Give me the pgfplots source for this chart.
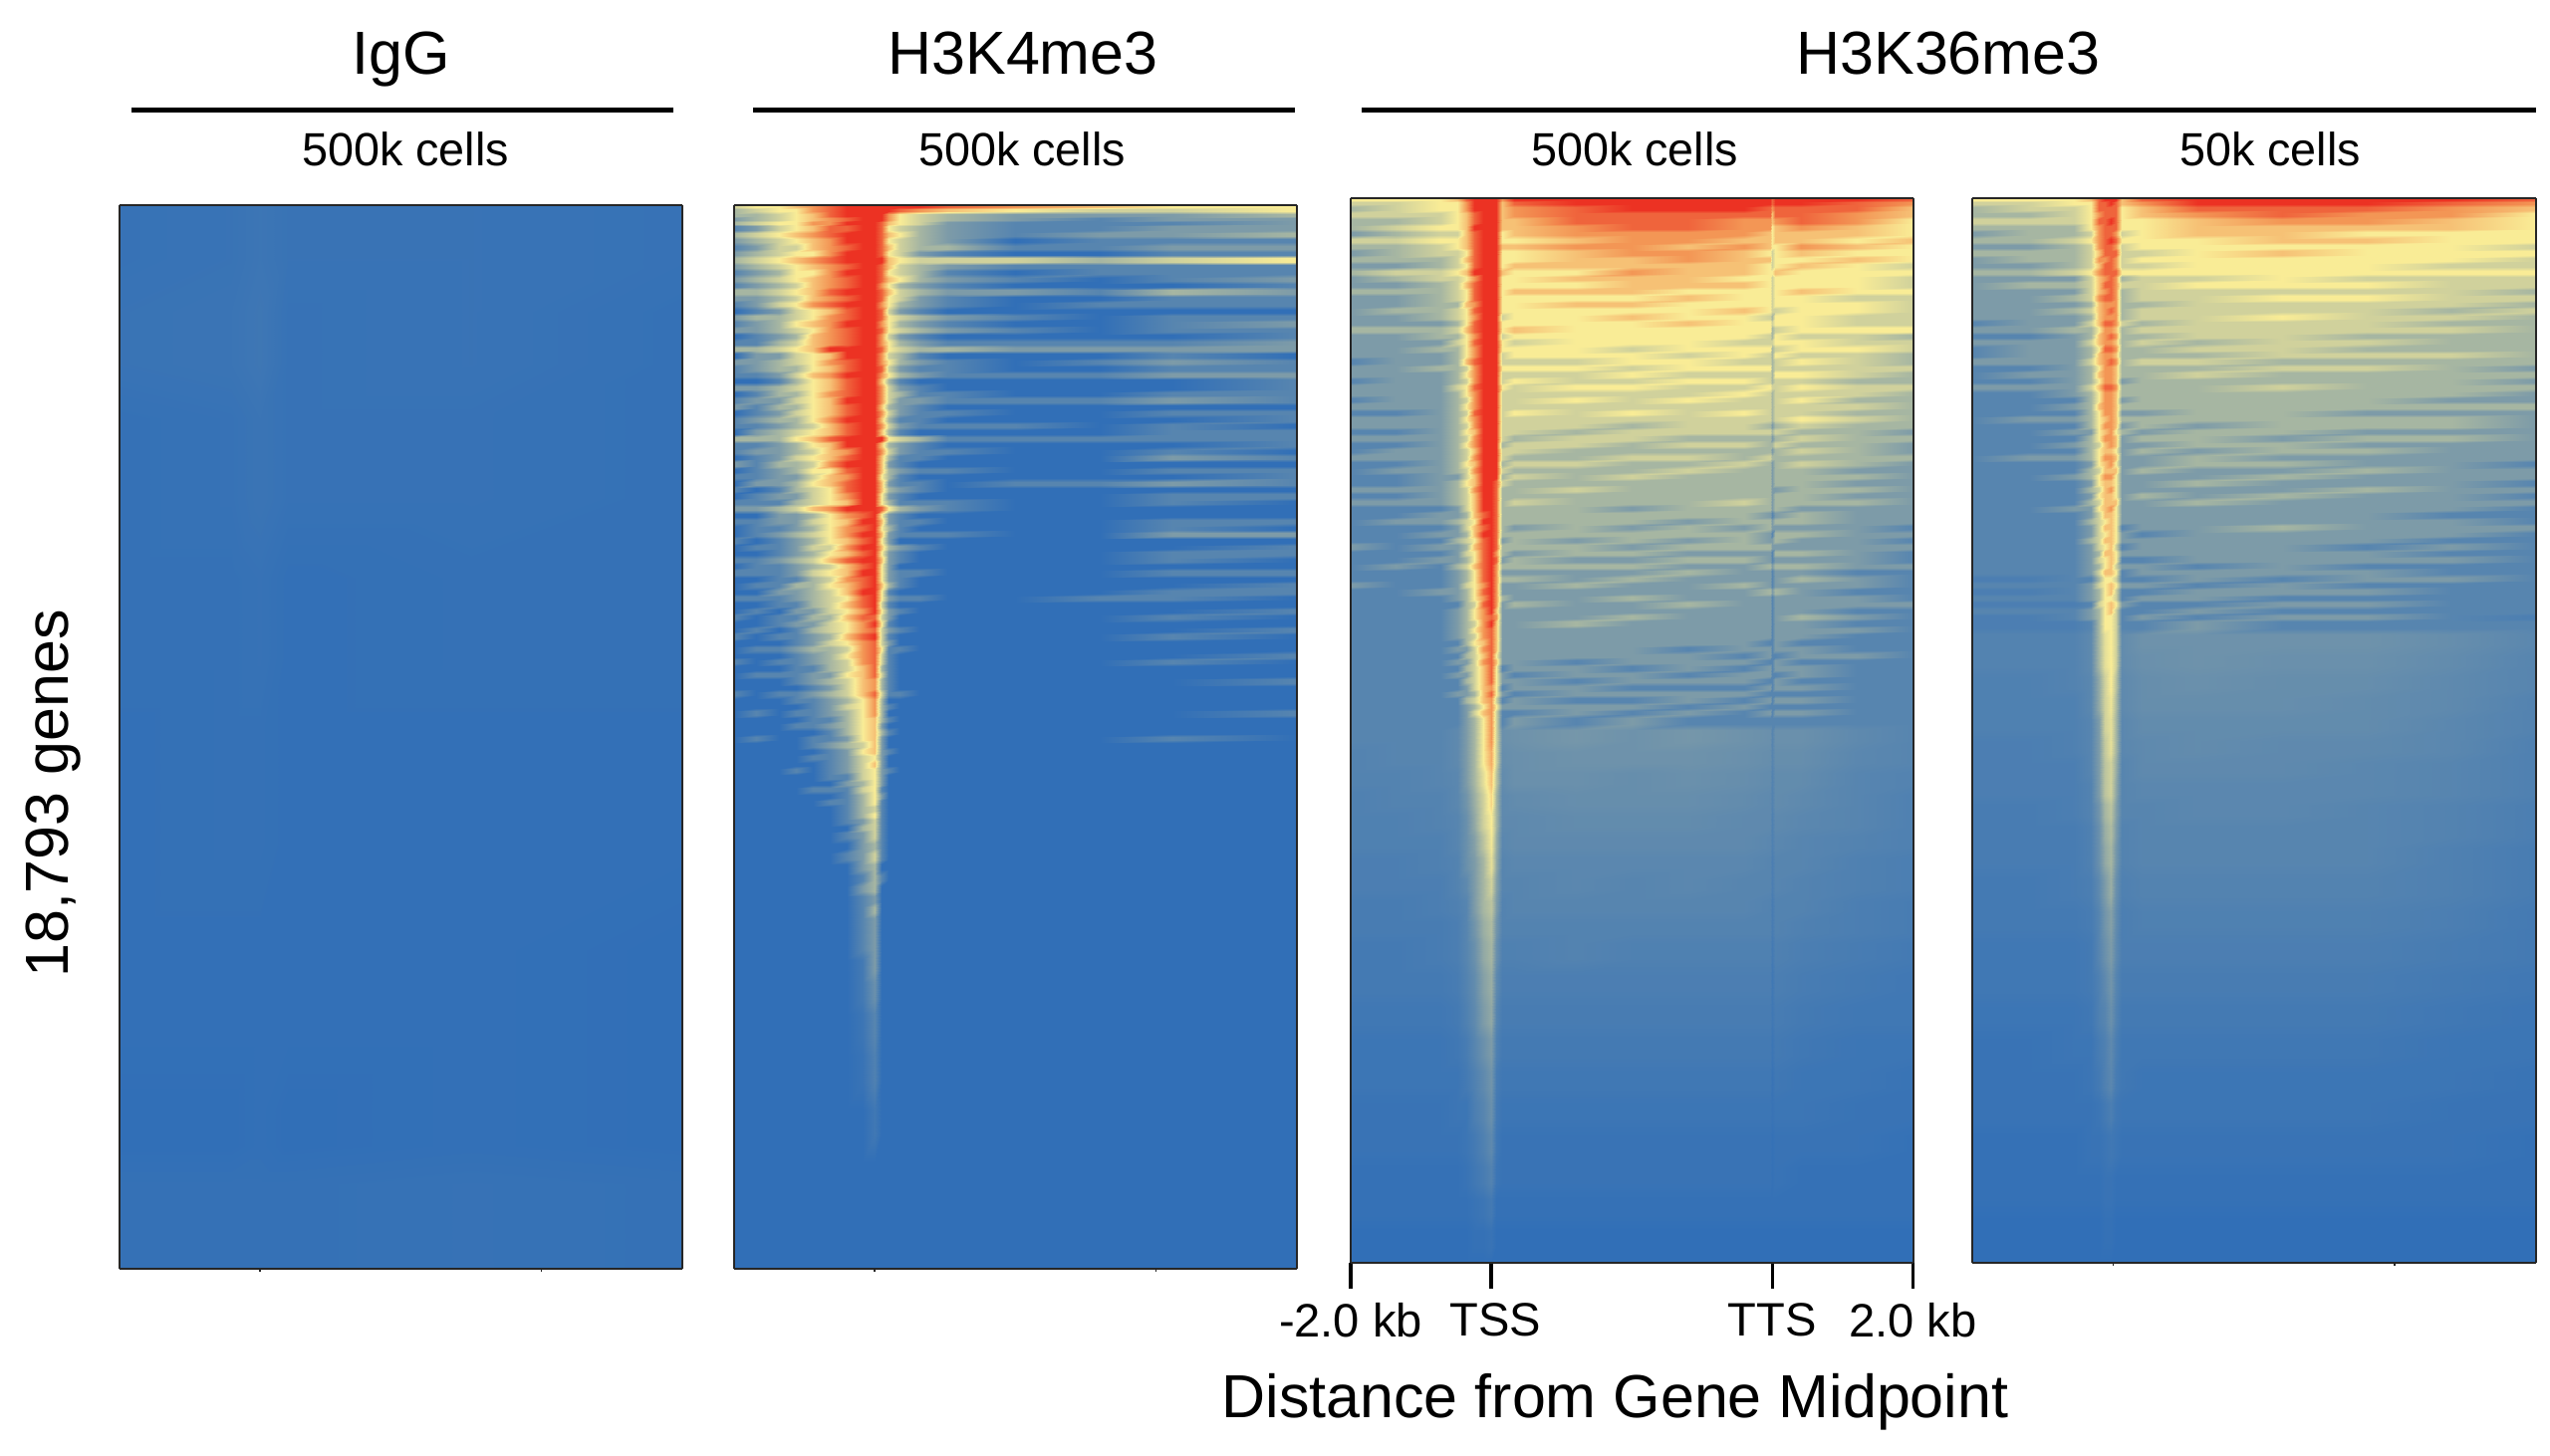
\documentclass[border=0pt]{standalone}
\usepackage{fontspec}
\setmainfont{Liberation Sans}
\usepackage{pgfplots}
\usepackage{pgfplotstable}
\pgfplotsset{compat=1.18}

% first column: depth in the sorted gene list (percent), then signal 0-9
% each row is a band down to the next depth, the last row only closes the panel
\pgfplotstableread{
y a b c d e f g h i j k l m n o p q r
0   4 5 5 6 7 8 9 9 9 9 9 9 9 8 7 6 5 5
0.4 3 4 5 5 7 8 9 9 9 9 9 8 7 6 5 4 4 5
0.8 3 3 4 5 6 8 9 9 9 9 7 5 4 3 2 2 2 3
1.2 2 3 4 5 6 7 8 9 9 9 7 5 4 3 2 1 2 2
1.6 3 4 5 5 7 7 9 9 9 8 6 5 4 2 1 1 1 2
2.0 1 2 4 5 6 8 8 9 9 8 5 4 3 2 1 1 2 2
2.6 3 4 5 6 7 8 9 9 9 8 6 5 3 2 1 2 2 3
3.2 2 3 4 5 6 7 9 9 9 8 5 4 3 2 0 1 1 1
3.8 1 2 4 4 6 7 8 9 9 8 6 4 3 3 1 1 2 2
4.4 2 3 4 5 5 7 9 9 9 8 5 4 2 1 0 0 1 1
5.0 3 4 5 6 7 8 9 9 9 9 6 5 4 4 4 3 4 5
5.6 2 3 4 5 6 7 8 9 9 8 6 4 3 2 1 1 1 1
6.2 1 2 3 5 5 7 9 9 9 8 5 4 3 1 0 1 1 1
6.8 2 3 4 5 6 7 8 9 9 8 6 5 3 2 1 0 1 2
7.4 1 2 3 4 6 7 8 9 9 7 5 3 2 1 0 0 0 1
8.0 3 3 4 5 6 8 9 9 9 8 6 4 3 2 2 1 3 2
8.6 2 2 3 4 6 7 8 9 9 8 5 4 2 1 0 0 1 1
9.2 1 2 4 5 7 8 9 9 9 7 5 3 2 1 0 1 1 1
9.8 0 1 2 4 5 6 8 9 9 8 4 2 1 0 0 0 0 0
10.4 2 3 3 4 5 7 8 9 9 8 5 4 3 2 1 0 1 1
11.0 1 2 3 5 6 7 9 9 9 7 5 3 2 1 0 0 1 2
11.6 2 2 3 4 5 7 8 9 9 8 5 4 3 2 1 0 1 1
12.2 0 1 2 3 6 7 8 9 9 7 4 2 1 0 0 0 0 1
12.8 1 1 3 4 6 7 8 9 9 7 5 3 2 1 1 1 1 2
13.4 3 3 4 5 6 9 9 9 9 8 5 4 3 3 2 2 2 2
14.0 0 2 2 4 5 6 9 9 9 7 4 3 1 0 0 0 1 0
14.6 2 2 3 4 5 7 8 9 9 7 5 3 2 1 0 1 2 1
15.2 1 2 3 3 5 6 8 9 9 8 4 2 1 1 0 0 1 1
15.8 1 1 2 4 6 7 9 9 9 7 5 3 2 1 1 1 2 2
16.4 0 0 1 3 5 6 8 9 9 6 3 1 0 0 0 0 0 1
17.0 2 2 3 4 5 6 8 9 9 7 4 2 1 0 0 0 0 1
17.6 0 1 3 3 5 7 8 9 9 7 4 3 1 1 0 0 1 1
18.2 1 2 2 4 5 6 9 9 9 7 4 2 2 1 1 1 2 1
18.8 2 1 3 3 5 6 8 9 9 6 3 2 1 0 0 0 0 0
19.4 0 1 2 4 5 6 8 9 9 7 4 2 1 1 0 0 1 1
20.0 1 2 3 3 5 7 9 9 9 6 3 1 1 0 0 0 0 1
20.6 1 1 2 3 4 6 8 9 9 7 4 2 1 1 1 0 1 0
21.2 0 2 3 4 5 6 8 9 9 6 3 1 0 0 0 0 1 1
21.8 3 3 3 5 6 8 9 9 9 9 5 4 3 1 1 1 1 1
22.4 1 1 2 3 5 6 9 9 9 6 3 2 1 0 0 0 0 1
23.0 1 2 2 3 4 6 7 9 9 7 4 2 1 1 0 0 1 0
23.6 0 1 2 4 5 6 8 9 9 6 3 1 1 0 0 0 2 1
24.2 2 1 3 3 4 7 9 9 9 6 2 1 0 0 0 0 0 0
24.8 0 1 2 3 5 5 8 9 9 6 3 2 1 1 0 0 1 1
25.4 1 1 2 2 4 6 7 9 9 5 3 1 0 0 0 0 0 1
26.0 0 2 2 3 5 6 8 9 9 6 2 1 1 0 1 1 2 1
26.6 1 0 1 3 4 5 8 9 9 6 3 2 1 0 0 0 0 0
27.2 0 1 2 2 4 5 7 9 9 5 2 1 0 0 0 0 1 1
27.8 1 1 1 3 4 5 6 9 9 5 3 1 1 1 0 0 1 0
28.4 2 2 3 4 6 7 9 9 9 8 5 3 2 1 0 0 0 0
29.0 0 0 2 2 3 5 7 8 9 5 2 1 0 0 0 0 0 0
29.6 1 1 2 2 4 5 6 9 9 6 2 1 1 0 0 0 1 1
30.2 0 1 1 2 3 5 7 8 9 5 3 1 0 0 0 0 1 0
30.8 0 1 2 3 4 5 7 9 9 6 2 1 1 1 0 0 2 2
31.4 1 0 1 2 3 5 6 8 9 5 2 0 0 0 0 0 0 0
32.0 0 1 1 2 4 4 7 9 9 6 3 2 1 0 0 0 0 1
32.6 0 0 1 2 3 5 6 8 9 5 2 1 0 0 0 0 1 1
33.2 1 1 2 3 4 6 8 9 9 6 2 1 0 0 0 0 1 0
33.8 0 1 1 2 3 4 6 8 9 5 2 0 0 0 0 0 0 0
34.4 1 1 1 2 4 5 6 9 9 5 2 1 1 0 0 0 1 1
35.0 0 0 1 1 3 4 7 8 9 5 2 1 0 0 0 0 0 0
35.6 0 1 1 3 3 5 6 8 9 6 3 1 0 0 0 0 0 1
36.2 0 0 2 2 3 4 6 9 9 5 1 0 0 0 0 0 1 1
36.8 1 1 1 2 3 4 5 8 9 5 2 1 1 0 0 1 1 0
37.4 0 0 1 1 3 4 6 8 9 4 1 0 0 0 0 0 0 0
38.0 0 1 0 2 2 4 5 7 9 5 2 1 0 0 0 0 0 1
38.6 1 0 1 1 3 3 6 8 8 4 2 0 0 0 0 0 1 0
39.2 0 0 1 2 2 4 5 7 9 5 1 0 0 0 0 0 0 0
39.8 0 1 0 1 3 4 5 7 8 4 2 1 0 0 0 0 0 1
40.4 1 0 1 1 2 3 6 8 9 4 1 0 0 0 0 0 1 0
41.0 0 0 0 1 2 4 5 7 8 4 2 0 0 0 0 0 0 0
41.6 0 1 1 2 3 3 4 7 8 5 1 1 0 0 0 0 0 0
42.2 0 0 0 1 2 3 5 7 8 4 1 0 0 0 0 0 0 1
42.8 1 0 1 1 2 3 4 7 8 4 1 0 0 0 0 0 1 0
43.4 0 0 0 1 1 3 4 6 8 3 1 0 0 0 0 0 0 0
44.0 0 1 1 1 2 2 5 6 8 4 1 0 0 0 0 0 0 0
44.6 0 0 0 1 2 3 4 6 7 3 1 0 0 0 0 0 0 1
45.2 0 0 0 0 1 2 4 6 7 3 1 0 0 0 0 0 0 0
45.8 1 0 1 1 2 3 4 6 8 4 1 1 0 0 0 0 0 0
46.4 0 0 0 1 1 2 3 5 7 3 0 0 0 0 0 0 0 0
47.0 0 0 0 0 1 2 4 5 7 3 1 0 0 0 0 0 0 0
47.6 0 1 0 1 1 2 3 5 7 3 0 0 0 0 0 0 0 1
48.2 0 0 0 0 1 1 3 5 6 3 1 0 0 0 0 0 0 0
48.8 0 0 0 1 1 2 3 5 6 2 0 0 0 0 0 0 0 0
49.4 0 0 0 0 0 1 3 5 6 3 1 0 0 0 0 0 0 0
50.0 0 1 0 0 1 1 2 5 6 2 0 0 0 0 0 0 1 0
50.6 0 0 0 0 1 2 3 4 6 2 0 0 0 0 0 0 0 0
51.2 0 0 0 0 0 1 2 5 6 2 1 0 0 0 0 0 0 0
51.8 0 0 0 0 1 1 2 4 5 2 0 0 0 0 0 0 0 0
52.4 0 0 0 0 0 1 2 4 6 2 0 0 0 0 0 0 0 0
53.0 0 0 0 1 0 1 2 4 5 2 1 0 0 0 0 0 0 0
53.6 0 0 0 0 0 1 1 4 5 2 0 0 0 0 0 0 0 0
54.2 0 0 0 0 0 0 2 3 5 2 0 0 0 0 0 0 0 0
54.8 0 0 0 0 1 1 1 4 5 1 0 0 0 0 0 0 0 0
55.4 0 0 0 0 0 0 1 3 5 2 0 0 0 0 0 0 0 0
56.0 0 0 0 0 0 1 1 3 5 1 0 0 0 0 0 0 0 0
56.6 0 0 0 0 0 0 1 3 4 1 0 0 0 0 0 0 0 0
57.2 0 0 0 0 0 0 1 3 5 1 0 0 0 0 0 0 0 0
57.8 0 0 0 0 0 0 1 2 4 1 0 0 0 0 0 0 0 0
58.4 0 0 0 0 0 0 0 3 4 1 0 0 0 0 0 0 0 0
59.0 0 0 0 0 0 0 1 2 4 1 0 0 0 0 0 0 0 0
60  0 0 0 0 0 0 0 2 3 1 0 0 0 0 0 0 0 0
61  0 0 0 0 0 0 1 2 4 1 0 0 0 0 0 0 0 0
62  0 0 0 0 0 0 0 2 3 0 0 0 0 0 0 0 0 0
63  0 0 0 0 0 0 0 1 3 1 0 0 0 0 0 0 0 0
64  0 0 0 0 0 0 0 2 3 0 0 0 0 0 0 0 0 0
65  0 0 0 0 0 0 0 1 2 0 0 0 0 0 0 0 0 0
66  0 0 0 0 0 0 0 1 3 0 0 0 0 0 0 0 0 0
67  0 0 0 0 0 0 0 1 2 0 0 0 0 0 0 0 0 0
69  0 0 0 0 0 0 0 1 2 0 0 0 0 0 0 0 0 0
71  0 0 0 0 0 0 0 .5 2 0 0 0 0 0 0 0 0 0
73  0 0 0 0 0 0 0 .5 1.5 0 0 0 0 0 0 0 0 0
76  0 0 0 0 0 0 0 .3 1 0 0 0 0 0 0 0 0 0
80  0 0 0 0 0 0 0 .2 .8 0 0 0 0 0 0 0 0 0
85  0 0 0 0 0 0 0 0 .4 0 0 0 0 0 0 0 0 0
90  0 0 0 0 0 0 0 0 0 0 0 0 0 0 0 0 0 0
100 0 0 0 0 0 0 0 0 0 0 0 0 0 0 0 0 0 0
}\tabB

\pgfplotstableread{
y a b c d e f g h i j k l m n o p q r s t u
0   5 5 5 6  8 9 9 9 9 7  9 9 9 9 9  9 8 9 9 9 8
0.4 4 4 5 5  7 9 9 9 9 6  8 9 9 9 9  9 8 9 9 8 7
0.8 3 4 5 5  7 9 9 9 9 6  7 8 9 9 9  8 7 8 8 8 6
1.4 4 4 4 5  6 8 9 9 9 6  7 8 8 8 8  8 6 8 8 7 6
2.0 3 3 4 5  6 8 9 9 9 6  6 8 8 8 7  7 6 7 8 7 5
2.6 3 4 5 5  6 9 9 9 9 6  6 7 8 8 7  7 5 6 7 6 5
3.2 2 3 4 4  6 8 9 9 9 5  6 7 7 7 7  6 5 6 6 6 5
3.8 4 4 5 5  6 8 9 9 9 5  5 6 7 7 6  6 5 6 6 5 6
4.4 3 3 4 5  6 8 9 9 9 6  6 7 7 6 7  6 5 5 7 6 5
5.0 2 3 4 4  5 8 9 9 9 5  5 6 7 7 6  5 4 5 6 5 5
5.6 3 3 3 4  6 8 9 9 9 5  5 6 6 7 6  6 4 5 5 6 5
6.2 2 2 3 4  5 8 9 9 9 5  6 6 6 6 6  5 4 5 6 5 4
6.8 3 4 4 5  6 9 9 9 9 6  5 5 7 6 6  5 5 6 5 5 5
7.4 2 3 4 4  5 7 9 9 9 5  5 6 6 6 5  5 4 5 5 5 4
8.0 2 2 3 4  6 8 9 9 9 5  5 5 6 6 6  5 4 5 5 5 4
8.6 3 3 3 4  5 8 9 9 9 5  6 6 6 5 5  5 4 5 6 5 5
9.2 2 2 3 4  5 8 9 9 9 5  5 5 5 6 5  5 4 5 5 4 4
9.8 2 2 3 3  6 7 9 9 9 5  5 6 6 5 5  5 4 5 5 5 4
10.4 2 3 3 4 5 8 9 9 9 5  5 5 5 5 6  5 4 4 5 5 4
11.0 2 2 3 4 5 7 9 9 9 4  5 5 6 5 5  4 3 5 5 4 4
11.6 2 2 2 3 5 8 9 9 9 5  5 5 5 6 5  5 4 5 5 4 4
12.2 3 3 3 4 6 8 9 9 9 5  6 5 5 5 5  5 3 4 5 5 5
12.8 2 2 3 3 5 7 9 9 9 4  5 5 5 5 5  4 3 5 4 4 3
13.4 2 2 2 4 5 8 9 9 9 5  4 5 5 5 4  4 4 5 5 4 4
14.0 2 2 3 3 5 7 9 9 9 5  5 5 4 5 5  5 3 4 5 5 4
14.6 2 2 2 3 5 7 9 9 9 4  5 5 5 4 5  4 3 5 4 4 3
15.2 1 2 2 3 6 8 9 9 9 4  4 4 5 5 4  4 3 4 5 4 3
15.8 2 2 3 3 4 7 9 9 9 5  5 5 4 5 5  5 3 4 4 4 4
16.4 2 2 2 3 5 7 9 9 9 4  4 4 5 4 4  4 3 5 5 4 3
17.0 1 2 2 3 4 7 9 9 9 4  5 4 4 5 5  4 3 4 4 3 3
17.6 2 2 2 4 5 8 9 9 9 5  4 5 5 4 4  5 4 4 5 4 4
18.2 2 2 2 3 5 7 9 9 9 4  4 4 4 4 5  4 3 4 4 4 3
18.8 1 2 2 3 4 7 9 9 9 4  4 5 4 5 4  4 3 4 5 3 3
19.4 2 2 2 3 5 7 9 9 9 4  4 4 4 4 4  4 3 4 4 4 3
20.0 1 1 2 3 4 8 9 9 9 4  5 4 5 4 5  4 3 4 4 3 3
20.6 2 2 2 3 5 7 9 9 9 4  4 4 4 4 4  4 3 4 5 4 3
21.2 2 2 2 3 4 7 9 9 9 4  4 4 3 4 4  3 2 3 4 3 3
21.8 1 1 2 3 5 6 9 9 9 4  4 3 4 4 4  4 3 4 3 3 2
22.4 2 2 2 3 4 7 9 9 9 4  3 4 4 3 3  3 2 3 4 3 3
23.0 1 1 2 3 5 7 9 9 9 3  4 4 3 4 4  3 3 4 3 3 2
23.6 1 2 2 3 4 6 9 9 9 4  4 3 3 3 3  3 2 3 4 3 2
24.2 2 2 2 3 4 7 9 9 9 4  3 3 4 4 3  4 3 3 3 3 3
24.8 1 1 2 3 5 6 9 9 9 3  4 4 3 3 4  3 2 3 4 3 2
25.4 1 2 2 3 4 7 9 9 9 4  3 3 3 4 3  3 2 3 3 2 2
26.0 1 1 2 2 4 6 9 9 9 3  4 3 4 3 3  3 2 3 3 3 2
26.6 1 1 2 3 5 6 9 9 8 4  3 3 3 3 3  3 2 3 3 2 2
27.2 2 2 2 3 4 7 9 9 8 3  3 4 3 3 3  3 2 2 3 3 2
27.8 1 1 2 3 4 6 9 9 8 3  3 3 3 3 3  3 2 3 3 2 2
28.4 2 2 2 3 4 6 9 9 8 3  4 3 3 3 4  3 2 3 3 3 2
29.0 1 1 1 2 4 6 9 9 8 3  3 3 2 3 3  3 2 3 2 2 2
29.6 1 1 2 2 3 6 8 9 8 3  3 3 3 3 3  2 1 2 3 2 2
30.2 1 2 2 3 4 5 9 9 8 3  3 3 3 2 3  3 2 3 3 2 2
30.8 1 1 1 2 4 6 8 9 8 3  2 3 2 3 2  3 2 2 2 2 1
31.4 1 1 2 2 3 6 9 9 8 3  3 3 3 3 3  2 1 3 3 2 2
32.0 1 1 1 3 4 5 8 9 8 2  3 2 3 2 3  2 2 3 2 2 1
32.6 2 1 2 2 3 6 8 9 8 3  3 3 2 3 3  3 2 2 2 2 2
33.2 1 1 1 2 4 5 8 9 7 3  2 3 3 2 2  2 1 3 3 2 1
33.8 1 1 2 2 3 5 8 9 8 2  3 2 2 3 3  2 1 2 2 2 1
34.4 1 2 1 3 4 6 8 9 7 3  3 3 3 2 2  3 2 3 3 2 2
35.0 1 1 1 2 3 5 8 9 7 2  2 2 2 3 2  2 1 2 2 1 1
35.6 1 1 1 2 3 5 8 9 7 3  3 2 3 2 2  2 1 2 3 2 1
36.2 2 1 1 2 4 5 7 9 7 2  2 3 2 2 3  2 1 2 2 2 1
36.8 1 1 2 2 3 5 8 9 7 2  2 2 2 2 2  3 2 3 2 1 1
37.4 1 1 1 2 3 5 7 9 7 3  2 2 3 2 2  2 1 2 2 2 1
38.0 1 1 1 1 3 4 8 9 7 2  3 2 2 3 2  2 1 2 2 2 2
38.6 1 1 1 2 3 5 7 9 6 2  2 2 2 2 2  2 1 2 2 1 1
39.2 1 1 1 2 3 5 7 8 7 2  2 2 3 2 2  2 1 2 3 2 1
39.8 1 1 1 2 3 4 7 9 6 2  2 3 2 2 2  2 1 2 2 1 1
40.4 1 1 1 2 3 5 7 8 6 2  2 2 2 2 2  2 1 2 2 2 1
41.0 1 1 1 2 3 4 7 8 6 2  2 2 2 2 2  2 1 2 2 1 1
41.6 1 1 1 1 3 5 6 8 6 2  2 2 2 2 2  1 1 2 1 1 1
42.2 1 1 1 2 2 4 7 8 6 2  2 2 2 1 2  2 1 2 2 1 1
42.8 1 1 1 1 3 4 6 8 5 2  2 2 2 2 1  2 1 1 2 2 1
43.4 1 1 1 2 2 4 7 8 6 2  2 1 2 2 2  1 1 2 1 1 1
44.0 1 1 1 1 3 4 6 8 5 1  2 2 1 2 1  2 1 2 2 1 1
44.6 1 1 1 2 2 4 6 8 5 2  1 2 2 1 2  2 1 1 2 1 1
45.2 1 1 1 1 3 4 6 8 5 2  2 1 2 2 2  1 1 2 1 1 1
45.8 1 1 1 1 2 4 6 7 5 1  2 2 1 1 1  2 1 2 2 1 1
46.4 1 1 1 2 2 3 6 8 5 2  1 2 2 2 2  1 1 1 1 1 1
47.0 1 1 1 1 3 4 6 7 4 1  2 1 1 2 1  2 1 2 2 1 1
47.6 1 1 1 1 2 3 5 7 5 2  2 2 2 1 2  1 1 1 1 1 1
48.2 1 1 1 1 2 4 6 7 4 1  1 2 1 2 1  2 1 2 2 1 1
48.8 1 1 1 1 2 3 5 7 4 1  2 1 2 1 1  1 1 1 1 1 1
50  1 1 1 1.2 2 3 5 7 4 1.5  1.6 1.8 1.6 1.8 1.6  1.5 1 1.5 1.5 1.2 1
52  .9 1 1 1.2 2 3 5 6.5 4 1.4  1.5 1.6 1.6 1.6 1.5  1.4 1 1.4 1.4 1.1 1
54  .9 .9 1 1.1 2 3 4.5 6 3.5 1.3  1.5 1.5 1.4 1.5 1.4  1.3 .9 1.3 1.3 1 .9
56  .8 .9 .9 1.1 1.7 2.7 4 5.5 3 1.2  1.3 1.4 1.4 1.4 1.3  1.2 .9 1.3 1.2 1 .8
58  .8 .8 .9 1 1.5 2.5 4 5 3 1.2  1.2 1.3 1.3 1.3 1.2  1.2 .8 1.2 1.1 1 .8
60  .8 .8 .8 1 1.5 2.2 3.5 4.8 2.7 1.1  1.2 1.2 1.2 1.2 1.2  1.1 .8 1.1 1 .9 .8
62  .7 .7 .8 .9 1.5 2 3 4.5 2.5 1  1.1 1.1 1.1 1.1 1.1  1 .7 1 1 .8 .7
64  .7 .7 .7 .9 1.2 2 3 4 2.2 1  1 1.1 1 1.1 1  1 .7 1 .9 .8 .7
66  .6 .6 .7 .8 1 2 3 3.5 2 .9  1 1 1 1 1  .9 .6 .9 .9 .7 .6
68  .6 .6 .6 .7 1 1.7 2.7 3.2 1.7 .9  .9 .9 .9 .9 .9  .9 .6 .9 .8 .7 .6
70  .5 .5 .6 .7 1 1.5 2.5 3 1.5 .8  .8 .9 .8 .8 .8  .8 .5 .8 .7 .6 .5
73  .5 .5 .5 .6 .9 1.3 2.2 2.7 1.2 .7  .7 .7 .7 .7 .7  .7 .4 .7 .6 .5 .4
76  .4 .4 .4 .5 .8 1.2 2 2.5 1 .6  .6 .6 .6 .6 .6  .6 .4 .6 .5 .4 .4
79  .3 .3 .3 .4 .6 1 1.5 2 .8 .5  .5 .5 .5 .5 .5  .5 .3 .5 .4 .3 .3
82  .3 .3 .3 .3 .5 .8 1.2 1.7 .6 .4  .4 .4 .4 .4 .4  .4 .2 .4 .3 .3 .2
85  .2 .2 .2 .3 .3 .7 1 1.5 .5 .3  .3 .3 .3 .3 .3  .3 .2 .3 .3 .2 .2
88  .2 .2 .2 .2 .3 .5 .8 1.2 .4 .2  .2 .2 .2 .2 .2  .2 .1 .2 .2 .2 .1
91  .1 .1 .1 .1 .2 .4 .6 .9 .3 .2  .2 .2 .2 .2 .2  .2 .1 .2 .1 .1 .1
94  .1 .1 .1 .1 .1 .2 .3 .5 .1 .1  .1 .1 .1 .1 .1  .1 .1 .1 .1 .1 .1
97  0 0 0 0 0 .1 .1 .2 0 0  0 0 0 0 0  0 0 0 0 0 0
100 0 0 0 0 0 0 0 0 0 0  0 0 0 0 0  0 0 0 0 0 0
}\tabC

\pgfplotstableread{
y a b c d e f g h i j k l m n o
0   5 5 5 6  8 9 9 9 6  8 9 9 9 9 8
0.4 4 4 5 5  8 8 9 8 6  7 9 9 9 8 7
0.8 3 4 4 5  8 8 8 8 5  6 8 8 8 7 6
1.4 3 3 4 5  7 8 8 8 5  6 7 8 7 7 5
2.0 4 4 4 5  8 8 9 8 5  5 6 7 7 6 5
2.6 3 3 3 5  7 8 8 8 5  5 6 6 6 6 5
3.2 2 3 3 4  7 8 8 7 4  5 6 6 5 5 5
3.8 3 3 4 5  7 8 9 8 5  5 5 6 6 5 5
4.4 2 2 3 4  7 8 8 7 4  5 5 5 5 5 4
5.0 3 3 3 4  6 8 8 8 4  4 5 6 5 5 5
5.6 2 3 3 4  7 7 8 7 4  5 5 5 5 5 4
6.2 2 2 3 4  6 8 8 7 4  4 5 5 5 4 4
6.8 3 3 4 5  7 8 8 8 5  5 5 5 5 5 5
7.4 2 2 2 4  6 7 8 7 3  4 4 5 4 4 4
8.0 2 3 3 4  6 8 8 7 4  4 5 5 5 4 4
8.6 2 2 2 4  6 7 8 7 3  4 4 4 4 4 3
9.2 2 2 3 4  7 8 8 7 3  4 4 5 5 4 4
9.8 2 2 2 3  6 7 7 7 3  3 4 4 4 4 3
10.4 2 2 3 4 6 7 8 7 3  4 4 4 4 3 4
11.0 2 2 2 3 6 7 7 7 3  4 4 5 4 4 3
11.6 1 2 2 4 6 8 8 7 4  3 4 4 4 3 3
12.2 2 2 3 3 5 7 7 6 3  4 4 4 4 4 3
12.8 1 1 2 3 6 7 8 7 3  3 4 4 3 3 3
13.4 2 2 2 4 6 7 7 6 3  4 3 4 4 3 3
14.0 1 2 2 3 5 8 8 7 3  3 4 4 3 3 3
14.6 1 2 2 3 6 7 7 6 3  3 3 4 4 4 3
15.2 2 2 2 4 6 7 8 7 3  4 4 3 3 3 3
15.8 1 1 2 3 5 7 7 6 3  3 3 4 4 3 2
16.4 1 2 2 3 6 7 7 6 3  3 4 3 3 3 3
17.0 1 1 2 3 5 7 7 6 2  3 3 3 3 3 2
17.6 2 2 2 4 6 8 8 7 3  3 3 4 3 3 3
18.2 1 1 2 3 5 7 7 6 3  3 3 3 3 3 2
18.8 1 1 1 3 5 7 7 6 2  3 3 3 3 2 2
19.4 1 1 2 3 6 7 7 6 3  3 3 3 3 3 3
20.0 1 1 1 3 5 7 7 6 2  2 3 3 2 2 2
20.6 1 2 2 3 5 6 7 6 3  3 3 3 3 3 2
21.2 1 1 1 3 5 7 7 6 2  3 2 3 3 3 2
21.8 1 1 2 2 5 6 7 5 3  2 3 3 2 2 2
22.4 1 1 1 3 5 7 7 6 2  3 3 2 3 3 2
23.0 1 1 2 3 4 6 7 6 2  2 3 3 2 2 2
23.6 1 1 1 3 5 6 6 5 2  3 2 3 3 2 2
24.2 1 2 2 3 5 7 7 6 2  2 3 2 2 2 2
24.8 1 1 1 2 5 6 7 5 2  2 3 3 2 2 1
25.4 1 1 1 3 4 6 6 6 2  3 2 2 3 2 2
26.0 1 1 2 3 5 7 7 5 2  2 2 3 2 2 2
26.6 1 1 1 2 5 6 6 5 2  2 3 2 2 2 1
27.2 1 1 1 3 4 6 7 5 2  2 2 2 3 2 2
27.8 1 1 1 2 5 6 6 5 2  3 2 3 2 2 1
28.4 1 1 1 3 4 6 6 6 2  2 3 2 2 2 2
29.0 1 1 2 2 5 6 7 5 2  2 2 2 2 2 1
29.6 1 1 1 2 4 6 6 5 2  2 2 2 2 1 1
30.2 1 1 1 3 4 5 6 5 2  2 2 2 2 2 1
30.8 1 1 1 2 4 6 6 5 1  2 2 3 2 2 2
31.4 1 1 1 2 4 5 6 5 2  1 2 2 2 2 1
32.0 1 1 1 3 4 6 6 5 2  2 2 2 2 1 1
32.6 1 1 1 2 4 5 6 4 1  2 2 2 1 2 1
33.2 1 1 1 2 3 6 6 5 2  2 2 2 2 1 1
33.8 1 1 1 2 4 5 6 5 1  1 2 2 2 2 1
34.4 1 1 1 2 3 5 6 4 2  2 1 2 1 1 1
35.0 1 1 1 2 4 6 6 5 1  2 2 2 2 1 1
35.6 .7 .7 1 1 3 5 5 4 1  1 2 1 2 2 1
36.2 1 1 1 2 4 5 6 5 2  2 1 2 1 1 1
36.8 .7 .7 1 2 3 5 6 4 1  1 2 2 2 1 1
37.4 1 1 1 2 3 5 5 4 1  2 2 1 1 1 1
38.0 .7 .7 .7 1 4 5 6 5 2  1 1 2 2 1 1
38.6 1 1 1 2 3 5 6 4 1  1 2 1 1 1 1
39.2 .7 .7 1 2 3 5 5 4 1  2 1 2 2 1 .7
39.8 .7 .7 .7 1 3 5 5 4 1  1 2 1 1 1 1
41  .9 .9 .9 1.2 3 4.5 5 4 1.3  1.6 1.6 1.6 1.6 1.4 1.1
43  .9 .9 .9 1.2 3 4.5 5 4 1.3  1.5 1.6 1.5 1.5 1.3 1
45  .8 .8 .9 1.1 2.5 4 5 3.5 1.2  1.4 1.5 1.4 1.4 1.2 1
47  .8 .8 .8 1.1 2.5 4 4.7 3.2 1.2  1.4 1.4 1.4 1.3 1.2 .9
49  .8 .8 .8 1 2 4 4.5 3 1.1  1.3 1.3 1.3 1.3 1.1 .9
51  .7 .7 .8 1 2 3.7 4.5 3 1.1  1.2 1.3 1.2 1.2 1.1 .8
53  .7 .7 .7 1 2 3.5 4 2.7 1  1.2 1.2 1.2 1.1 1 .8
55  .7 .7 .7 .9 2 3.5 4 2.5 1  1.1 1.1 1.1 1.1 1 .8
57  .6 .6 .7 .9 1.7 3 3.5 2.2 1  1 1.1 1.1 1 .9 .7
59  .6 .6 .6 .8 1.5 2.7 3.2 2 .9  1 1 1 1 .9 .7
61  .6 .6 .6 .8 1.5 2.5 3 1.8 .9  1 1 1 1 .8 .6
64  .5 .5 .6 .7 1.2 2 2.7 1.5 .8  .9 .9 .9 .9 .8 .6
67  .5 .5 .5 .6 1 1.7 2.2 1.3 .7  .8 .8 .8 .8 .7 .5
70  .4 .4 .4 .5 1 1.5 2 1.2 .7  .7 .7 .7 .7 .6 .5
73  .4 .4 .4 .5 .8 1.2 1.7 1 .6  .6 .6 .6 .6 .5 .4
76  .3 .3 .3 .4 .8 1 1.5 .9 .5  .5 .5 .5 .5 .4 .3
79  .2 .2 .3 .3 .6 .8 1.2 .7 .4  .4 .4 .4 .4 .3 .3
82  .2 .2 .2 .3 .5 .8 1.1 .6 .4  .3 .3 .3 .3 .3 .2
85  .2 .2 .2 .2 .3 .5 .7 .4 .3  .3 .3 .3 .3 .2 .2
88  .1 .1 .1 .2 .2 .3 .4 .3 .2  .2 .2 .2 .2 .2 .1
92  .1 .1 .1 .1 .1 .2 .2 .1 .1  .1 .1 .1 .1 .1 .1
96  0 0 0 0 0 .1 .1 0 0  0 0 0 0 0 0
100 0 0 0 0 0 0 0 0 0  0 0 0 0 0 0
}\tabD

\pgfplotstableread{
y a b c d e f
0   .15 .2 .3 .2 .2 .15
10  .2 .25 .35 .15 .2 .1
20  .1 .15 .25 .15 .15 .1
35  .1 .1 .15 .05 .1 .1
50  .05 .1 .1 .05 .05 .05
70  .05 .05 .05 .05 .05 0
85  0 0 .05 0 .05 0
92  .1 .1 .1 .1 .15 .1
100 .1 .1 .1 .1 .15 .1
}\tabA

% turn a wide table into a coordinate list for surf:
% each band holds its values for half its height, then fades into the next
\newcommand{\buildcoords}[2]{%
  \gdef\coords{}%
  \pgfplotstablegetrowsof{#1}%
  \pgfmathtruncatemacro\lastrow{\pgfplotsretval-2}%
  \foreach \r in {0,...,\lastrow}{%
    \pgfplotstablegetelem{\r}{[index]0}\of{#1}%
    \let\ya\pgfplotsretval
    \pgfmathtruncatemacro\rnext{\r+1}%
    \pgfplotstablegetelem{\rnext}{[index]0}\of{#1}%
    \pgfmathsetmacro\yb{(\ya+\pgfplotsretval)/2}%
    \gdef\rowa{}\gdef\rowb{}%
    \foreach \xx [count=\c] in {#2}{%
      \pgfplotstablegetelem{\r}{[index]\c}\of{#1}%
      \xdef\rowa{\rowa(\xx,\ya,\pgfplotsretval)}%
      \xdef\rowb{\rowb(\xx,\yb,\pgfplotsretval)}%
    }%
    \xdef\coords{\coords\rowa\rowb}%
  }%
  % close the panel with the last row of the table
  \pgfmathtruncatemacro\rlast{\lastrow+1}%
  \pgfplotstablegetelem{\rlast}{[index]0}\of{#1}%
  \let\ya\pgfplotsretval
  \foreach \xx [count=\c] in {#2}{%
    \pgfplotstablegetelem{\rlast}{[index]\c}\of{#1}%
    \xdef\coords{\coords(\xx,\ya,\pgfplotsretval)}%
  }%
}

\pgfplotsset{
  colormap={heat}{
    rgb255(0)=(49,111,183)
    rgb255(2)=(125,155,168)
    rgb255(5)=(249,236,150)
    rgb255(7)=(243,150,85)
    rgb255(9)=(236,50,35)
  },
  heatmap/.style={
    scale only axis, view={0}{90},
    width=5.65cm, height=10.68cm,
    xmin=-2, xmax=2, ymin=0, ymax=100,
    y dir=reverse,
    ytick=\empty, xtick={-1,1}, xticklabels={},
    tick align=outside, tick pos=bottom,
    major tick length=0.03cm,
    point meta min=0, point meta max=9,
    axis line style={color=black!85, line width=0.02cm},
    tick style={color=black!85, line width=0.015cm},
    axis on top, colormap name=heat, anchor=south west,
  },
  heatsurf/.style={surf, shader=interp, point meta=z},
}

\newcommand{\heatplot}[1]{%
  \edef\tmp{\noexpand\addplot3[heatsurf, mesh/cols=#1] coordinates {\coords};}\tmp
}

\begin{document}
\begin{tikzpicture}[x=1cm,y=1cm]
\path[use as bounding box] (0,0) rectangle (25.6,14.62);

\begin{axis}[heatmap, at={(1.195cm,1.88cm)}]
\buildcoords{\tabA}{-2,-1.2,-1,-.8,.5,2}
\heatplot{6}
\end{axis}

\begin{axis}[heatmap, at={(7.365cm,1.88cm)}]
\buildcoords{\tabB}{-2,-1.84,-1.68,-1.56,-1.44,-1.32,-1.2,-1.08,-1,-.952,-.9,-.82,-.68,-.48,0,.6,1.12,2}
\heatplot{18}
\end{axis}

\begin{axis}[heatmap, at={(13.56cm,1.94cm)}, width=5.645cm, height=10.69cm,
  xtick={-2,-1,1,2}, xticklabels={-2.0 kb,\hspace*{0.08cm}TSS,TTS,2.0 kb},
  major tick length=0.26cm,
  tick style={color=black, line width=0.035cm},
  xticklabel style={font=\fontsize{13.4}{16}\selectfont, yshift=-0.02cm, inner xsep=0pt}]
\buildcoords{\tabC}{-2,-1.68,-1.36,-1.24,-1.18,-1.12,-1.06,-1,-.968,-.92,-.84,-.4,0,.4,.8,.98,1,1.02,1.2,1.6,2}
\heatplot{21}
\end{axis}

\begin{axis}[heatmap, at={(19.8cm,1.94cm)}, width=5.655cm, height=10.69cm]
\buildcoords{\tabD}{-2,-1.6,-1.28,-1.16,-1.1,-1.06,-1.02,-.98,-.94,-.8,-.4,.2,.8,1.4,2}
\heatplot{15}
\end{axis}

% group headers
\def\big{\fontsize{17.35}{20}\selectfont}
\def\small{\fontsize{13.3}{16}\selectfont}
\node[font=\big, anchor=base] at (4.03,13.87) {IgG};
\node[font=\big, anchor=base] at (10.27,13.87) {H3K4me3};
\node[font=\big, anchor=base] at (19.56,13.87) {H3K36me3};
\draw[line width=0.05cm] (1.32,13.51) -- (6.76,13.51);
\draw[line width=0.05cm] (7.56,13.51) -- (13.00,13.51);
\draw[line width=0.05cm] (13.67,13.51) -- (25.46,13.51);
\node[font=\small] at (4.07,13.12) {500k cells};
\node[font=\small] at (10.26,13.12) {500k cells};
\node[font=\small] at (16.41,13.12) {500k cells};
\node[font=\small] at (22.79,13.12) {50k cells};
\node[font=\big] at (16.215,0.54) {Distance from Gene Midpoint};
\node[font=\big, rotate=90] at (0.54,6.65) {18,793 genes};
\end{tikzpicture}
\end{document}
